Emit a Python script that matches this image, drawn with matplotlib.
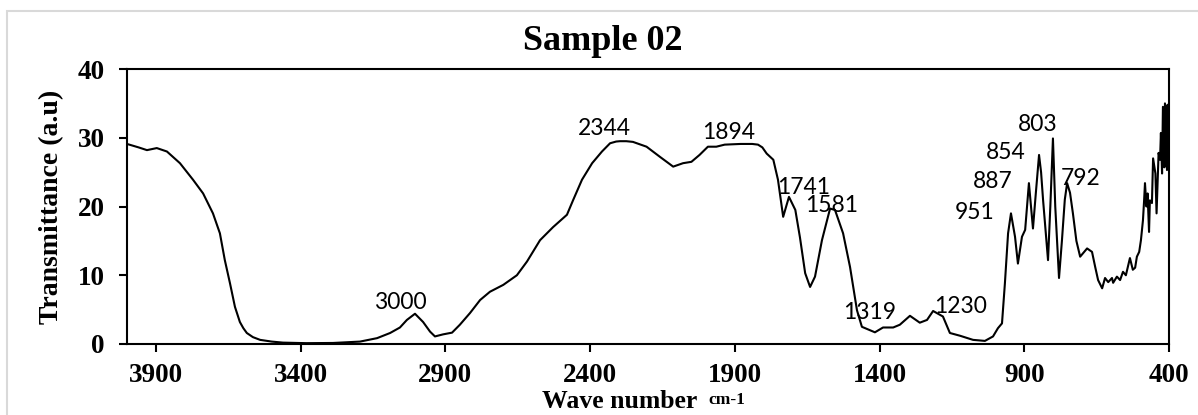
import matplotlib
matplotlib.use("Agg")
import matplotlib.pyplot as plt
from matplotlib.patches import Rectangle

# FTIR spectrum (wavenumber cm-1, transmittance a.u)
wavenumber = [
    4000, 3960, 3931, 3897, 3862, 3817, 3772, 3737, 3703, 3679, 3662, 3644,
    3627, 3610, 3598, 3586, 3565, 3540, 3500, 3461, 3380, 3288, 3195, 3136,
    3091, 3057, 3033, 3005, 2977, 2953, 2936, 2908, 2877, 2850, 2815, 2780,
    2746, 2700, 2653, 2618, 2573, 2528, 2480, 2459, 2428, 2393, 2359, 2331,
    2310, 2297, 2275, 2252, 2205, 2158, 2113, 2079, 2050, 2022, 1993, 1964,
    1935, 1880, 1840, 1820, 1805, 1790, 1767, 1751, 1733, 1713, 1691, 1675,
    1657, 1640, 1623, 1599, 1571, 1554, 1526, 1502, 1478, 1461, 1433, 1416,
    1388, 1353, 1330, 1295, 1261, 1236, 1215, 1181, 1157, 1122, 1077, 1036,
    1008, 991, 977, 967, 956, 946, 932, 922, 908, 897, 884, 870, 860, 849,
    842, 835, 818, 810, 801, 793, 780, 770, 760, 752, 742, 732, 720, 707,
    683, 666, 655, 645, 631, 621, 610, 597, 593, 580, 569, 559, 549, 535,
    525, 517, 511, 503, 497, 490, 486, 483, 478, 474, 469, 466, 459, 455,
    447, 443, 436, 431, 428, 424, 421, 416, 414, 407, 405, 402, 400,
]
transmittance = [
    29.1, 28.6, 28.2, 28.5, 28.0, 26.3, 23.9, 21.9, 19.0, 16.1, 12.2, 8.8,
    5.4, 3.2, 2.3, 1.6, 1.0, 0.6, 0.35, 0.2, 0.12, 0.15, 0.35, 0.85,
    1.6, 2.4, 3.5, 4.4, 3.2, 1.8, 1.1, 1.4, 1.65, 2.8, 4.5, 6.4,
    7.6, 8.6, 10.0, 12.0, 15.1, 17.0, 18.8, 20.9, 23.9, 26.3, 28.0, 29.2,
    29.45, 29.5, 29.5, 29.4, 28.7, 27.2, 25.8, 26.3, 26.5, 27.5, 28.7, 28.7,
    29.0, 29.1, 29.1, 29.0, 28.6, 27.7, 26.8, 23.9, 18.5, 21.4, 19.5, 15.5,
    10.3, 8.3, 9.8, 15.1, 19.7, 19.5, 16.1, 11.2, 4.9, 2.5, 2.0, 1.7,
    2.4, 2.4, 2.8, 4.1, 3.1, 3.5, 4.8, 4.0, 1.6, 1.2, 0.6, 0.45,
    1.1, 2.3, 3.0, 8.8, 16.1, 19.0, 15.6, 11.7, 15.6, 16.6, 23.4, 16.8, 22.0, 27.5,
    25.0, 20.9, 12.2, 20.0, 29.9, 20.0, 9.6, 15.0, 21.0, 23.4, 22.0, 19.0, 15.0, 12.7,
    13.9, 13.4, 11.2, 9.3, 8.1, 9.6, 9.0, 9.6, 8.9, 9.8, 9.3, 10.5, 10.0, 12.5,
    10.8, 11.1, 12.7, 13.4, 15.1, 18.0, 20.9, 23.4, 20.0, 21.9, 16.3, 20.9, 20.5, 27.0,
    24.8, 19.0, 27.8, 26.8, 30.7, 24.8, 34.5, 25.7, 35.0, 25.3, 34.8, 28.0, 33.0,
]

# peak labels and where they sit
peak_labels = ["3000", "2344", "1894", "1741", "1581", "1319", "1230",
               "951", "887", "854", "803", "792"]
label_x = [3057, 2349, 1920, 1664, 1564, 1436, 1119, 1070, 1008, 963, 852, 704]
label_y = [6.0, 31.4, 30.8, 22.7, 20.2, 4.65, 5.4, 19.2, 23.6, 27.9, 31.9, 24.1]

x_ticks = [3900, 3400, 2900, 2400, 1900, 1400, 900, 400]
y_ticks = [0, 10, 20, 30, 40]

serif = "Liberation Serif"

fig = plt.figure(figsize=(11.98, 4.15), dpi=100)
ax = fig.add_axes([0.106, 0.1711, 0.8698, 0.6626])

ax.plot(wavenumber, transmittance, color="black", linewidth=1.5)

for lab, lx, ly in zip(peak_labels, label_x, label_y):
    ax.text(lx, ly, lab, ha="center", va="center", fontsize=16.5,
            family="Lato", color="black")

ax.set_xlim(4000, 400)
ax.set_ylim(0, 40)
ax.set_xticks(x_ticks)
ax.set_yticks(y_ticks)
ax.tick_params(axis="x", direction="out", length=6, width=1.5, pad=8)
ax.tick_params(axis="y", direction="out", length=6, width=1.5, pad=10)
for lbl in ax.get_xticklabels() + ax.get_yticklabels():
    lbl.set_fontfamily(serif)
    lbl.set_fontweight("bold")
    lbl.set_fontsize(19.5)
for sp in ax.spines.values():
    sp.set_linewidth(1.5)
    sp.set_color("black")

ax.set_ylabel("Transmittance (a.u)", family=serif, fontweight="bold",
              fontsize=20, labelpad=10)

fig.text(0.5033, 0.8795, "Sample 02", ha="center", va="baseline",
         family=serif, fontweight="bold", fontsize=26)
fig.text(542 / 1198, 0.0169, "Wave number", ha="left", va="baseline",
         family=serif, fontweight="bold", fontsize=18.5)
fig.text(708 / 1198, 0.026, "cm-1", ha="left", va="baseline",
         family=serif, fontweight="bold", fontsize=12.5)

# light grey frame around the chart area
fig.patches.append(Rectangle((7 / 1198, -0.2), 1.2, 0.2 + (415 - 11) / 415,
                             transform=fig.transFigure, fill=False,
                             edgecolor="#d9d9d9", linewidth=1.5))

fig.savefig("out.png", dpi=100)
